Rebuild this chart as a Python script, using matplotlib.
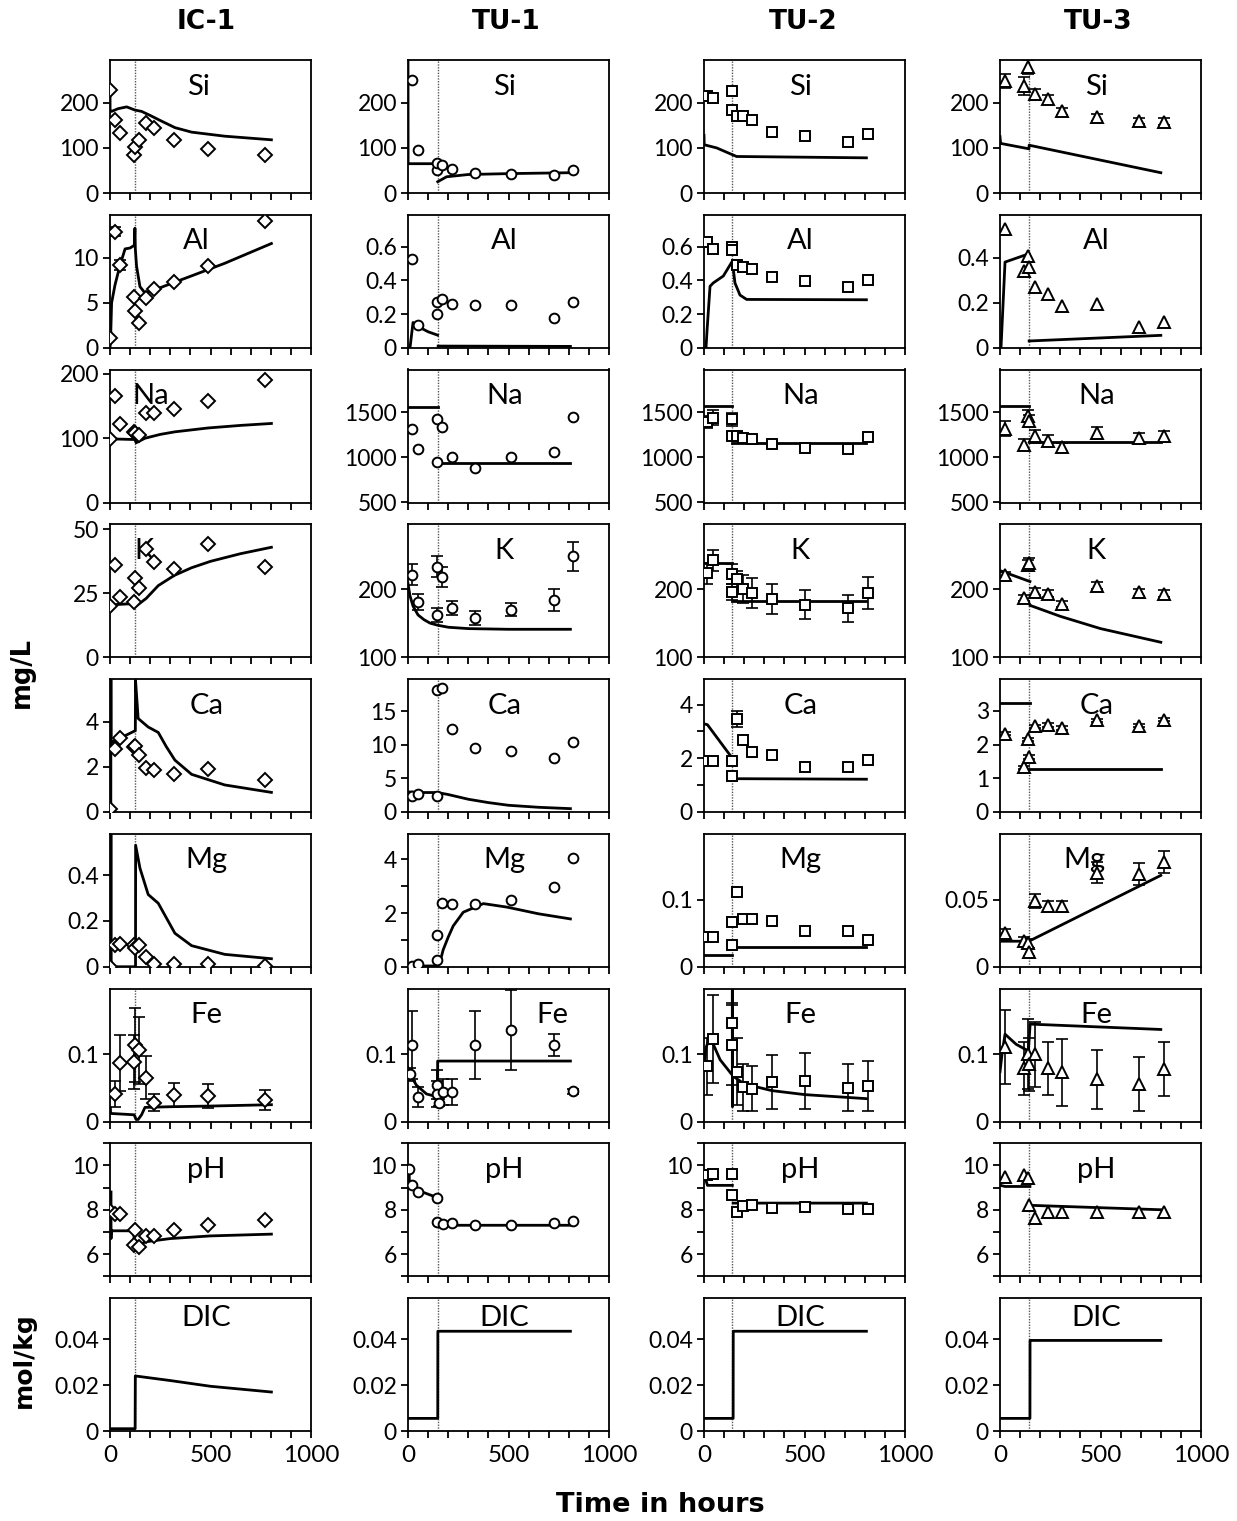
import numpy as np
import matplotlib.pyplot as plt
from matplotlib.ticker import FuncFormatter

plt.rcParams['font.family'] = ['Lato', 'DejaVu Sans']

nan = np.nan

columns = ["IC-1", "TU-1", "TU-2", "TU-3"]
elements = ["Si", "Al", "Na", "K", "Ca", "Mg", "Fe", "pH", "DIC"]
switch_time = [125, 147, 141, 144]

# ---------------- IC-1 ----------------
ic1_t = [0, 25, 52, 121, 125, 146, 177, 220, 318, 487, 772]
ic1_obs = {
    "Si": [228, 161, 132, 85, 101, 117, 156, 144, 118, 98, 84],
    "Al": [1.1, 12.9, 9.2, 5.7, 4.1, 2.7, 5.5, 6.5, 7.3, 9.1, 14.1],
    "Na": [99, 166, 122, 110, 108, 105, 140, 140, 146, 158, 190],
    "K": [20.2, 36, 23.5, 21.5, 31, 27, 42.5, 37.4, 34.5, 44.4, 35.4],
    "Ca": [0.15, 2.8, 3.3, 2.9, 2.95, 2.55, 1.95, 1.85, 1.7, 1.9, 1.4],
    "Mg": [0, 0.095, 0.1, 0.095, 0.08, 0.095, 0.043, 0.012, 0.012, 0.012, 0.003],
    "Fe": [nan, 0.041, 0.087, 0.089, 0.114, 0.106, 0.065, 0.028, 0.04, 0.038, 0.032],
    "pH": [7.95, 7.8, 7.8, 6.4, 7.1, 6.3, 6.8, 6.8, 7.1, 7.3, 7.55],
}
ic1_err = {
    "Al": [0, 0.5, 0.6, 0, 0, 0, 0, 0, 0, 0, 0],
    "Fe": [0, 0.02, 0.042, 0.04, 0.055, 0.05, 0.032, 0.013, 0.018, 0.018, 0.015],
}
ic1_model = {
    "Si": ([0, 0.5, 8, 40, 83, 124, 157, 200, 240, 323, 406, 571, 803],
           [228, 182, 181, 187, 191, 184, 181, 172, 163, 145, 135, 126, 118]),
    "Al": ([0, 3, 8, 25, 50, 75, 100, 121, 124, 126, 132, 149, 174, 240, 406, 571, 803],
           [0, 1, 5, 7, 9.2, 11, 11.1, 11.4, 13.3, 11, 9.1, 6.8, 6.1, 6.6, 8.0, 9.4, 11.6]),
    "Na": ([0, 5, 124, 130, 174, 250, 323, 488, 650, 803],
           [98, 99, 98, 93, 100, 106, 110, 116, 120, 123]),
    "K": ([0, 5, 124, 130, 180, 240, 320, 406, 500, 650, 803],
          [20, 20.5, 21, 20, 23, 28, 32, 35, 37.5, 40.5, 43]),
    "Ca": ([4, 4.5, 5, 10, 124, 126, 127, 140, 190, 240, 280, 323, 406, 571, 803],
           [0, 6, 3.1, 3.1, 3.6, 3.6, 5.85, 4.15, 3.77, 3.53, 2.9, 2.3, 1.67, 1.2, 0.87]),
    "Mg": ([4, 4.5, 5, 127, 127.5, 149, 190, 240, 323, 406, 571, 803],
           [0, 0.6, 0, 0, 0.53, 0.43, 0.315, 0.277, 0.146, 0.092, 0.054, 0.035]),
    "Fe": ([2, 3, 120, 130, 140, 157, 174, 300, 500, 803],
           [0.02, 0.012, 0.01, 0.003, 0.003, 0.01, 0.021, 0.022, 0.023, 0.025]),
    "pH": ([5, 5.2, 6, 116, 124, 130, 174, 300, 500, 803],
           [8.8, 6.7, 7.05, 7.05, 6.4, 6.3, 6.55, 6.7, 6.82, 6.9]),
    "DIC": ([0, 125, 126, 300, 500, 803],
            [0.001, 0.001, 0.024, 0.022, 0.0195, 0.017]),
}

# ---------------- TU-1 ----------------
tu1_t = [22, 50, 145, 145, 170, 220, 333, 512, 725, 820]
tu1_t_fe = [12, 22, 50, 145, 145, 155, 172, 220, 333, 512, 725, 820]
tu1_t_ph = [5, 22, 50, 145, 145, 172, 220, 333, 512, 725, 820]
tu1_obs = {
    "Si": [250, 96, 51, 66, 63, 53, 44, 43, 40, 51],
    "Al": [0.53, 0.135, 0.2, 0.27, 0.287, 0.262, 0.252, 0.256, 0.176, 0.27],
    "Na": [1313, 1088, 949, 1425, 1335, 998, 886, 998, 1058, 1448],
    "K": [221, 181, 162, 233, 218, 172, 158, 170, 184, 248],
    "Ca": [2.35, 2.75, 2.35, 18.2, 18.4, 12.4, 9.6, 9.1, 8.1, 10.4],
    "Mg": [0.03, 0.09, 0.25, 1.2, 2.39, 2.35, 2.35, 2.48, 2.98, 4.04],
    "Fe": [0.07, 0.114, 0.036, 0.055, 0.041, 0.028, 0.044, 0.044, 0.114, 0.136, 0.114, 0.045],
    "pH": [9.85, 9.1, 8.8, 8.55, 7.45, 7.35, 7.4, 7.3, 7.3, 7.38, 7.5],
}
tu1_err = {
    "K": [15, 12, 10, 15, 15, 10, 10, 10, 16, 21],
    "Fe": [0.01, 0.05, 0.015, 0.022, 0.02, 0.005, 0.02, 0.02, 0.05, 0.06, 0.017, 0.004],
}
tu1_model = {
    "Si": ([0, 0.5, 147, nan, 148, 192, 300, 500, 808],
           [295, 65, 65, nan, 25, 36, 41, 43, 45]),
    "Al": ([0, 10, 25, 60, 100, 147, nan, 150, 808],
           [0, 0, 0.15, 0.12, 0.095, 0.075, nan, 0.01, 0.008]),
    "Na": ([0, 147, nan, 150, 808], [1550, 1550, nan, 940, 940]),
    "K": ([0, 10, 25, 50, 80, 110, 147, 200, 300, 500, 808],
          [208, 190, 175, 162, 155, 150, 147, 144, 142, 141, 141]),
    "Ca": ([0, 50, 100, 147, 200, 300, 400, 500, 650, 808],
           [3.0, 2.9, 2.9, 2.9, 2.6, 1.9, 1.4, 1.0, 0.7, 0.5]),
    "Mg": ([0, 100, 147, 160, 175, 200, 225, 275, 375, 492, 650, 808],
           [0.02, 0.03, 0.03, 0.2, 0.63, 1.1, 1.52, 2.03, 2.35, 2.22, 1.97, 1.78]),
    "Fe": ([0, 20, 42, 92, 142, 147, 147.5, 808],
           [0.08, 0.065, 0.054, 0.041, 0.037, 0.035, 0.09, 0.09]),
    "pH": ([5, 8, 42, 145, nan, 150, 175, 808],
           [9.85, 9.0, 8.9, 8.55, nan, 7.45, 7.3, 7.3]),
    "DIC": ([0, 148, 148.5, 808], [0.0055, 0.0055, 0.0435, 0.0435]),
}

# ---------------- TU-2 ----------------
tu2_t = [17, 46, 141, 141, 166, 192, 240, 337, 502, 718, 814]
tu2_obs = {
    "Si": [215, 211, 226, 185, 170, 170, 161, 136, 126, 113, 130],
    "Al": [0.627, 0.586, 0.6, 0.58, 0.49, 0.477, 0.467, 0.422, 0.395, 0.36, 0.405],
    "Na": [1388, 1437, 1418, 1238, 1230, 1212, 1200, 1144, 1100, 1092, 1220],
    "K": [223, 242, 222, 196, 215, 200, 194, 186, 177, 172, 194],
    "Ca": [1.9, 1.9, 1.88, 1.33, 3.47, 2.68, 2.24, 2.13, 1.66, 1.66, 1.92],
    "Mg": [0.044, 0.044, 0.067, 0.032, 0.112, 0.072, 0.071, 0.069, 0.053, 0.053, 0.04],
    "Fe": [0.082, 0.123, 0.146, 0.114, 0.074, 0.051, 0.049, 0.059, 0.06, 0.05, 0.053],
    "pH": [9.55, 9.6, 9.6, 8.67, 7.92, 8.15, 8.2, 8.1, 8.12, 8.05, 8.05],
}
tu2_err = {
    "Na": [70, 80, 70, 40, 30, 20, 20, 20, 20, 20, 25],
    "K": [15, 15, 15, 12, 12, 20, 22, 22, 21, 20, 23],
    "Ca": [0, 0, 0, 0, 0.3, 0.2, 0.15, 0.15, 0, 0, 0],
    "Fe": [0.042, 0.065, 0.03, 0.06, 0.05, 0.035, 0.033, 0.04, 0.042, 0.035, 0.037],
}
tu2_model = {
    "Si": ([0, 1, 63, 141, 162, 808], [128, 107, 100, 85, 81, 78]),
    "Al": ([10, 15, 30, 46, 96, 141, 154, 179, 212, 808],
           [0, 0.1, 0.365, 0.385, 0.426, 0.514, 0.385, 0.313, 0.287, 0.285]),
    "Na": ([0, 141, nan, 141, 808], [1565, 1565, nan, 1155, 1155]),
    "K": ([0, 141, nan, 141, 808], [238, 238, nan, 182, 182]),
    "Ca": ([0, 17, 141, nan, 145, 808], [3.28, 3.25, 2.0, nan, 1.24, 1.22]),
    "Mg": ([0, 141, nan, 141, 808], [0.017, 0.017, nan, 0.03, 0.03]),
    "Fe": ([0, 10, 30, 80, 141, 141, 141.5, 142, 200, 337, 502, 808],
           [0.085, 0.11, 0.126, 0.092, 0.069, 0.2, 0.022, 0.068, 0.056, 0.046, 0.04, 0.034]),
    "pH": ([3, 17, 141, nan, 145, 808], [9.55, 9.1, 9.1, nan, 8.3, 8.3]),
    "DIC": ([0, 145, 145.5, 808], [0.0055, 0.0055, 0.0435, 0.0435]),
}

# ---------------- TU-3 ----------------
tu3_t = [25, 119, 141, 144, 174, 237, 307, 484, 692, 818]
tu3_obs = {
    "Si": [249, 238, 279, nan, 219, 208, 181, 168, 160, 158],
    "Al": [0.528, 0.34, 0.405, 0.358, 0.27, 0.24, 0.185, 0.194, 0.092, 0.115],
    "Na": [1316, 1137, 1455, 1400, 1230, 1185, 1110, 1268, 1210, 1230],
    "K": [220, 187, 235, 238, 196, 193, 178, 205, 195, 193],
    "Ca": [2.33, 1.33, 2.16, 1.63, 2.54, 2.58, 2.49, 2.72, 2.56, 2.74],
    "Mg": [0.025, 0.019, 0.018, 0.011, 0.049, 0.045, 0.045, 0.07, 0.069, 0.078],
    "Fe": [0.111, 0.079, 0.1, 0.085, 0.1, 0.079, 0.073, 0.063, 0.056, 0.078],
    "pH": [9.5, 9.55, 9.45, 8.23, 7.65, 7.92, 7.9, 7.9, 7.88, 7.92],
}
tu3_err = {
    "Si": [15, 20, 15, 0, 12, 10, 8, 8, 7, 8],
    "Na": [80, 60, 70, 70, 70, 60, 50, 70, 60, 60],
    "K": [5, 5, 8, 8, 5, 5, 5, 5, 5, 5],
    "Ca": [0.05] * 10,
    "Mg": [0.003, 0.003, 0.003, 0.003, 0.005, 0.004, 0.004, 0.008, 0.008, 0.008],
    "Fe": [0.055, 0.04, 0.052, 0.04, 0.048, 0.04, 0.05, 0.044, 0.04, 0.04],
}
tu3_model = {
    "Si": ([0, 3, 144, 145, 800], [125, 110, 98, 106, 45]),
    "Al": ([0, 5, 25, 144, nan, 145, 800], [0, 0, 0.38, 0.417, nan, 0.03, 0.055]),
    "Na": ([0, 144, nan, 145, 800], [1570, 1570, nan, 1167, 1167]),
    "K": ([0, 149, nan, 150, 300, 500, 800], [227, 211, nan, 176, 160, 142, 122]),
    "Ca": ([0, 149, nan, 150, 800], [3.24, 3.24, nan, 1.27, 1.27]),
    "Mg": ([0, 144, 800], [0.019, 0.019, 0.068]),
    "Fe": ([0, 10, 25, 80, 141, 150, 800], [0.074, 0.1, 0.13, 0.115, 0.105, 0.145, 0.137]),
    "pH": ([0, 2, 25, 149, nan, 150, 800], [9.4, 9.1, 9.05, 9.05, nan, 8.2, 8.0]),
    "DIC": ([0, 149, 149.5, 800], [0.0055, 0.0055, 0.0395, 0.0395]),
}

col_times = [ic1_t, tu1_t, tu2_t, tu3_t]
col_obs = [ic1_obs, tu1_obs, tu2_obs, tu3_obs]
col_err = [ic1_err, tu1_err, tu2_err, tu3_err]
col_model = [ic1_model, tu1_model, tu2_model, tu3_model]
special_times = {(1, "Fe"): tu1_t_fe, (1, "pH"): tu1_t_ph}

# axis ranges: (ylim, major ticks, minor ticks) per column
axis_cfg = {
    "Si": [((0, 295), [0, 100, 200], [])] * 4,
    "Al": [((0, 14.8), [0, 5, 10], []), ((0, 0.79), [0, 0.2, 0.4, 0.6], []),
           ((0, 0.79), [0, 0.2, 0.4, 0.6], []), ((0, 0.59), [0, 0.2, 0.4], [])],
    "Na": [((0, 207), [0, 100, 200], [])] + [((500, 1970), [500, 1000, 1500], [])] * 3,
    "K": [((0, 52), [0, 25, 50], [])] + [((100, 295), [100, 200], [])] * 3,
    "Ca": [((0, 5.9), [0, 2, 4], []), ((0, 19.8), [0, 5, 10, 15], []),
           ((0, 4.95), [0, 2, 4], [1, 3]), ((0, 3.95), [0, 1, 2, 3], [])],
    "Mg": [((0, 0.58), [0, 0.2, 0.4], []), ((0, 4.95), [0, 2, 4], [1, 3]),
           ((0, 0.199), [0, 0.1], []), ((0, 0.099), [0, 0.05], [])],
    "Fe": [((0, 0.198), [0, 0.1], [])] * 4,
    "pH": [((5, 11), [6, 8, 10], [5, 7, 9, 11])] * 4,
    "DIC": [((0, 0.058), [0, 0.02, 0.04], [])] * 4,
}

markers = ["D", "o", "s", "^"]
msizes = [7, 7, 7, 8.5]
label_x = {(0, "Si"): 0.44, (0, "Al"): 0.43, (0, "Na"): 0.2, (0, "K"): 0.17,
           (1, "Fe"): 0.72, (3, "Mg"): 0.42}
label_y = {"DIC": 0.85}

W, H = 1237, 1521
fig = plt.figure(figsize=(W / 100, H / 100), dpi=100)
lefts = [110, 408, 704, 1000]
fmt = FuncFormatter(lambda v, p: f"{v:g}")

for r, el in enumerate(elements):
    top = 60 + r * 154.75
    for c in range(4):
        ax = fig.add_axes([lefts[c] / W, 1 - (top + 133) / H, 201 / W, 133 / H])
        for s in ax.spines.values():
            s.set_linewidth(1.3)
        ylim, major, minor = axis_cfg[el][c]
        ax.set_xlim(0, 1000)
        ax.set_ylim(*ylim)
        ax.set_yticks(major)
        ax.set_yticks(minor, minor=True)
        ax.yaxis.set_major_formatter(fmt)
        ax.set_xticks(range(0, 1001, 100))
        if r == len(elements) - 1:
            ax.set_xticklabels([str(v) if v % 500 == 0 else "" for v in range(0, 1001, 100)])
        else:
            ax.set_xticklabels([])
        ax.tick_params(which="both", direction="out", length=5, width=1.3,
                       labelsize=16.5, pad=3)
        ax.tick_params(axis="x", labelsize=17.5, pad=5)

        ax.axvline(switch_time[c], color="0.35", lw=1.0, ls=(0, (1, 1)), zorder=1)

        mt, my = col_model[c][el]
        ax.plot(mt, my, color="k", lw=2.0, zorder=2)

        if el in col_obs[c]:
            t = np.array(special_times.get((c, el), col_times[c]), float)
            y = np.array(col_obs[c][el], float)
            if el in col_err[c]:
                e = np.array(col_err[c][el], float)
                m = (e > 0) & ~np.isnan(y)
                ax.errorbar(t[m], y[m], yerr=e[m], fmt="none", ecolor="k",
                            elinewidth=1.2, capsize=4, capthick=1.2, zorder=3)
            ax.plot(t, y, ls="none", marker=markers[c], ms=msizes[c], mfc="white",
                    mec="k", mew=1.4, zorder=4)

        ax.text(label_x.get((c, el), 0.48), label_y.get(el, 0.8), el,
                transform=ax.transAxes, ha="center", va="center", fontsize=21)

col_centers = [206, 506, 803, 1098]
for x, name in zip(col_centers, columns):
    fig.text(x / W, 1 - 22 / H, name, ha="center", va="center", fontsize=19,
             weight="bold", family="DejaVu Sans")

fig.text(22 / W, 1 - 672 / H, "mg/L", rotation=90, ha="center", va="center",
         fontsize=18.5, weight="bold", family="DejaVu Sans")
fig.text(24 / W, 1 - 1360 / H, "mol/kg", rotation=90, ha="center", va="center",
         fontsize=18, weight="bold", family="DejaVu Sans")
fig.text(660 / W, 1 - 1505 / H, "Time in hours", ha="center", va="center",
         fontsize=19.5, weight="bold", family="DejaVu Sans")

fig.savefig("out.png", dpi=100)
